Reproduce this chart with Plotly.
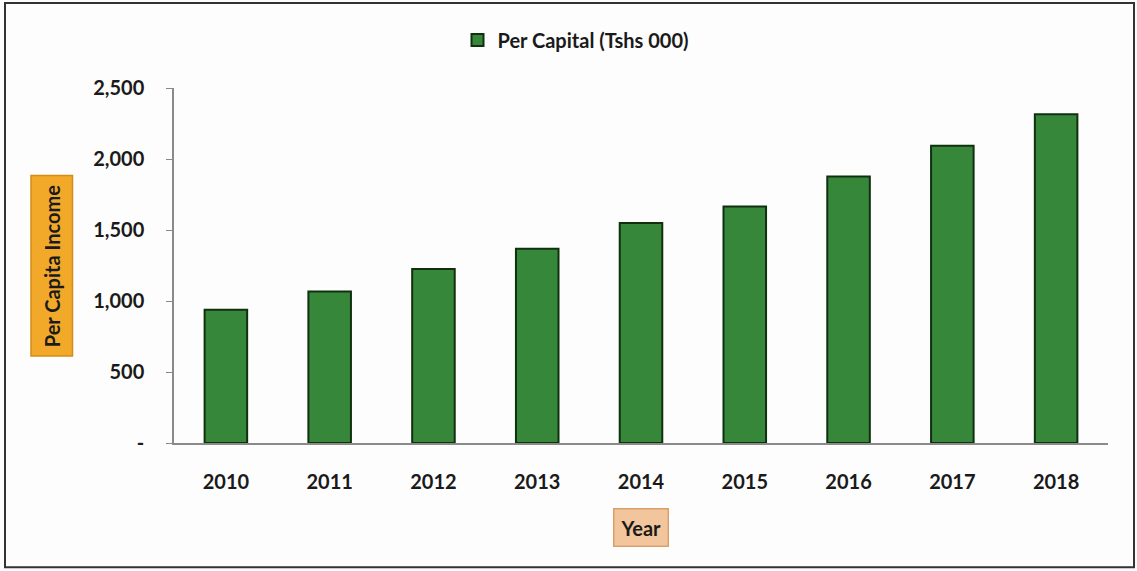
import plotly.graph_objects as go

# Per capita income by year (Tshs 000)
years = ["2010", "2011", "2012", "2013", "2014", "2015", "2016", "2017", "2018"]
per_capita = [939, 1067, 1225, 1368, 1549, 1665, 1876, 2094, 2315]

y_tick_vals = [0, 500, 1000, 1500, 2000, 2500]
y_tick_text = ["-", "500", "1,000", "1,500", "2,000", "2,500"]

W, H = 1137, 571
L, R, T, B = 174, 29, 88, 127.5
pw, ph = W - L - R, H - T - B


def px(x):
    return (x - L) / pw


def py(y):
    return (H - B - y) / ph


FONT = "Lato"
TXT = "#1a1a1a"

fig = go.Figure()
fig.add_trace(go.Bar(
    x=years,
    y=per_capita,
    name="Per Capital (Tshs 000)",
    marker=dict(color="#37873a", line=dict(color="#10300f", width=2)),
))

fig.update_layout(
    width=W,
    height=H,
    margin=dict(l=L, r=R, t=T, b=B),
    paper_bgcolor="#fdfdfd",
    plot_bgcolor="#fdfdfd",
    bargap=0.59,
    font=dict(family=FONT, size=19, color=TXT),
    showlegend=True,
    legend=dict(
        orientation="h",
        x=px(576), y=py(40),
        xanchor="center", yanchor="middle",
        font=dict(family=FONT, size=20, color=TXT, weight="bold"),
        bgcolor="rgba(0,0,0,0)",
        itemwidth=30,
    ),
    xaxis=dict(
        showline=True, linecolor="#8a8a8a", linewidth=1.5,
        ticks="", showgrid=False,
        tickfont=dict(family=FONT, size=20, color=TXT, weight="bold"),
        ticklabelstandoff=20,
    ),
    yaxis=dict(
        range=[0, 2500],
        tickvals=y_tick_vals, ticktext=y_tick_text,
        showline=True, linecolor="#8a8a8a", linewidth=1.5,
        ticks="outside", ticklen=6, tickcolor="#8a8a8a",
        showgrid=False, zeroline=False,
        tickfont=dict(family=FONT, size=20, color=TXT, weight="bold"),
        ticklabelstandoff=18,
    ),
    shapes=[
        dict(type="rect", xref="paper", yref="paper",
             x0=px(5), x1=px(1134), y0=py(568), y1=py(3),
             line=dict(color="#333333", width=2), fillcolor="rgba(0,0,0,0)",
             layer="below"),
    ],
    annotations=[
        dict(text="<b>Per Capita Income</b>", xref="paper", yref="paper",
             x=px(52), y=py(266), xanchor="center", yanchor="middle",
             textangle=-90, showarrow=False,
             font=dict(family=FONT, size=20, color=TXT),
             bgcolor="#f2a92a", bordercolor="#d38d16", borderwidth=1.5,
             borderpad=8),
        dict(text="<b>Year</b>", xref="paper", yref="paper",
             x=px(641), y=py(528), xanchor="center", yanchor="middle",
             showarrow=False,
             font=dict(family=FONT, size=20, color=TXT),
             bgcolor="#f2c59c", bordercolor="#d8a06c", borderwidth=1.5,
             borderpad=6),
    ],
)

fig.write_html("out.html")
